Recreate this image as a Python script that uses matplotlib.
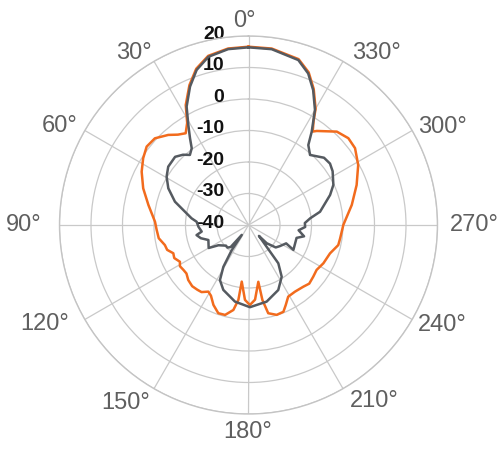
import numpy as np
import matplotlib
matplotlib.use("Agg")
import matplotlib.pyplot as plt

plt.rcParams['font.family'] = ['Liberation Sans', 'DejaVu Sans']

# ---- data (angle in degrees, value in dB) ----
orange_deg = [0, 6.6, 13.4, 18.5, 22.9, 27.6, 31, 34.4, 38, 41.7, 47.2, 52.4, 57.6, 63.5,
              70.8, 78.7, 88, 93, 98.4, 103.5, 107, 110.6, 114, 118.2, 121, 124.6, 128,
              132.4, 137.4, 141.6, 145, 148.9, 152, 156.3, 161.1, 165.4, 169.9, 172.3,
              173.2, 177.3, 181, 185, 189.8, 190.5, 192.6, 197.4, 201.9, 205, 209,
              214.9, 221.6, 226, 231.4, 236.6, 242.9, 250.8, 257.4, 261.7, 270, 281,
              290.3, 298.7, 305.8, 311, 316.6, 324, 325.5, 328, 330, 334.4, 338.5,
              343.2, 352.5, 360]
orange_db = [16.6, 16.4, 15.2, 12.3, 8.2, 3.0, -2.2, -4.7, -3.6, -1.7, 0.5, 0.8, -0.4, -2.1,
             -4.6, -7.6, -10.3, -10.8, -11.2, -12.7, -13.0, -14.5, -14.2, -15.3, -14.6, -14.9, -15.0,
             -14.1, -13.6, -13.8, -14.0, -15.3, -14.6, -12.3, -10.4, -10.5, -12.6, -16.0,
             -21.9, -16.2, -14.6, -16.2, -21.7, -15.8, -11.3, -10.1, -10.3, -12.0, -14.0,
             -14.2, -13.8, -13.2, -13.7, -14.1, -13.3, -12.6, -10.8, -10.6, -9.9, -6.6,
             -3.4, -0.3, 1.7, 2.0, 0.8, -3.1, -4.0, -1.0, 2.6, 7.9, 12.1,
             15.0, 16.5, 16.6]

gray_deg = [0, 6.6, 13.4, 18.5, 22.9, 27.6, 31, 34, 36.5, 39.9, 43, 47.1, 54, 59.4, 65.4,
            72.4, 78.2, 83.3, 86.4, 92, 98, 101, 105.5, 110.5, 120, 124, 132.5, 137,
            141, 145.8, 146.3, 149, 152.6, 158.8, 170, 181, 193.3, 204.6, 212.7, 217.9,
            223.7, 225, 230.5, 236, 244, 241, 255, 258.5, 264, 268, 272, 276.2, 280.5,
            290.2, 295.3, 302.6, 307, 311.7, 318.7, 323.2, 325.9, 330, 334.4, 338.5,
            343.2, 352.5, 360]
gray_db = [16.4, 16.2, 14.9, 11.9, 7.7, 2.4, -2.9, -6.8, -9.7, -11.0, -9.5, -8.2, -8.5, -9.8, -12.0,
           -15.5, -19.4, -21.8, -23.5, -24.1, -25.0, -23.2, -24.3, -26.4, -25.4, -28.5, -30.3, -30.2,
           -31.0, -36.2, -30.4, -24.5, -20.3, -17.9, -15.3, -13.9, -15.0, -17.3, -20.5, -24.6,
           -35.2, -31.8, -28.8, -28.0, -26.7, -23.7, -24.2, -22.0, -24.0, -22.0, -22.1, -20.3, -16.9,
           -12.4, -10.2, -8.3, -7.6, -7.9, -10.4, -8.3, -4.2, 2.2, 7.5, 11.7,
           14.7, 16.3, 16.4]

angle_ticks = list(range(0, 360, 30))
angle_labels = [f"{a}°" for a in angle_ticks]
r_ticks = [-40, -30, -20, -10, 0, 10, 20]
r_labels = [str(v) for v in r_ticks]

# ---- figure ----
fig = plt.figure(figsize=(5, 4.5), dpi=100)
ax = fig.add_axes([0.119, 0.08, 0.756, 0.84], projection='polar')
ax.set_theta_zero_location('N')
ax.set_theta_direction(1)
ax.set_ylim(r_ticks[0], r_ticks[-1])

ax.set_thetagrids(angle_ticks, labels=[''] * len(angle_ticks))
ax.set_rgrids(r_ticks[1:], labels=[''] * (len(r_ticks) - 1))
ax.grid(True, color='#c9c9c9', linewidth=0.9)
ax.spines['polar'].set_color('#c4c4c4')
ax.spines['polar'].set_linewidth(1.0)
ax.tick_params(length=0)

ax.plot(np.deg2rad(orange_deg), orange_db, color='#f26b1d', linewidth=1.8, zorder=3)
ax.plot(np.deg2rad(gray_deg), gray_db, color='#555a60', linewidth=1.8, zorder=4)

# angle labels: (ha, va, pixel offset from the outer circle)
lab_style = {
    0: ('center', 'baseline', (-4, 9)),
    30: ('right', 'baseline', (-2, 2)),
    60: ('right', 'center', (-7, 4)),
    90: ('right', 'center', (-18, 0)),
    120: ('right', 'center', (-16, -5)),
    150: ('right', 'top', (-4, -3)),
    180: ('center', 'top', (-1, -7)),
    210: ('left', 'top', (7, -1)),
    240: ('left', 'center', (6, -5)),
    270: ('left', 'center', (12, 0)),
    300: ('left', 'center', (6, 4)),
    330: ('left', 'baseline', (9, 2)),
}
for a, lab in zip(angle_ticks, angle_labels):
    ha, va, off = lab_style[a]
    ax.annotate(lab, xy=(np.deg2rad(a), r_ticks[-1]), xytext=off,
                textcoords='offset pixels', ha=ha, va=va, fontsize=17,
                color='#5f5f5f', annotation_clip=False)

# radial labels
for v, lab in zip(r_ticks, r_labels):
    ax.annotate(lab, xy=(0, v), xytext=(-24, 2), textcoords='offset pixels',
                ha='right', va='center', fontsize=14, fontweight='bold',
                color='#111111', zorder=2)

fig.savefig('out.png', dpi=100)
